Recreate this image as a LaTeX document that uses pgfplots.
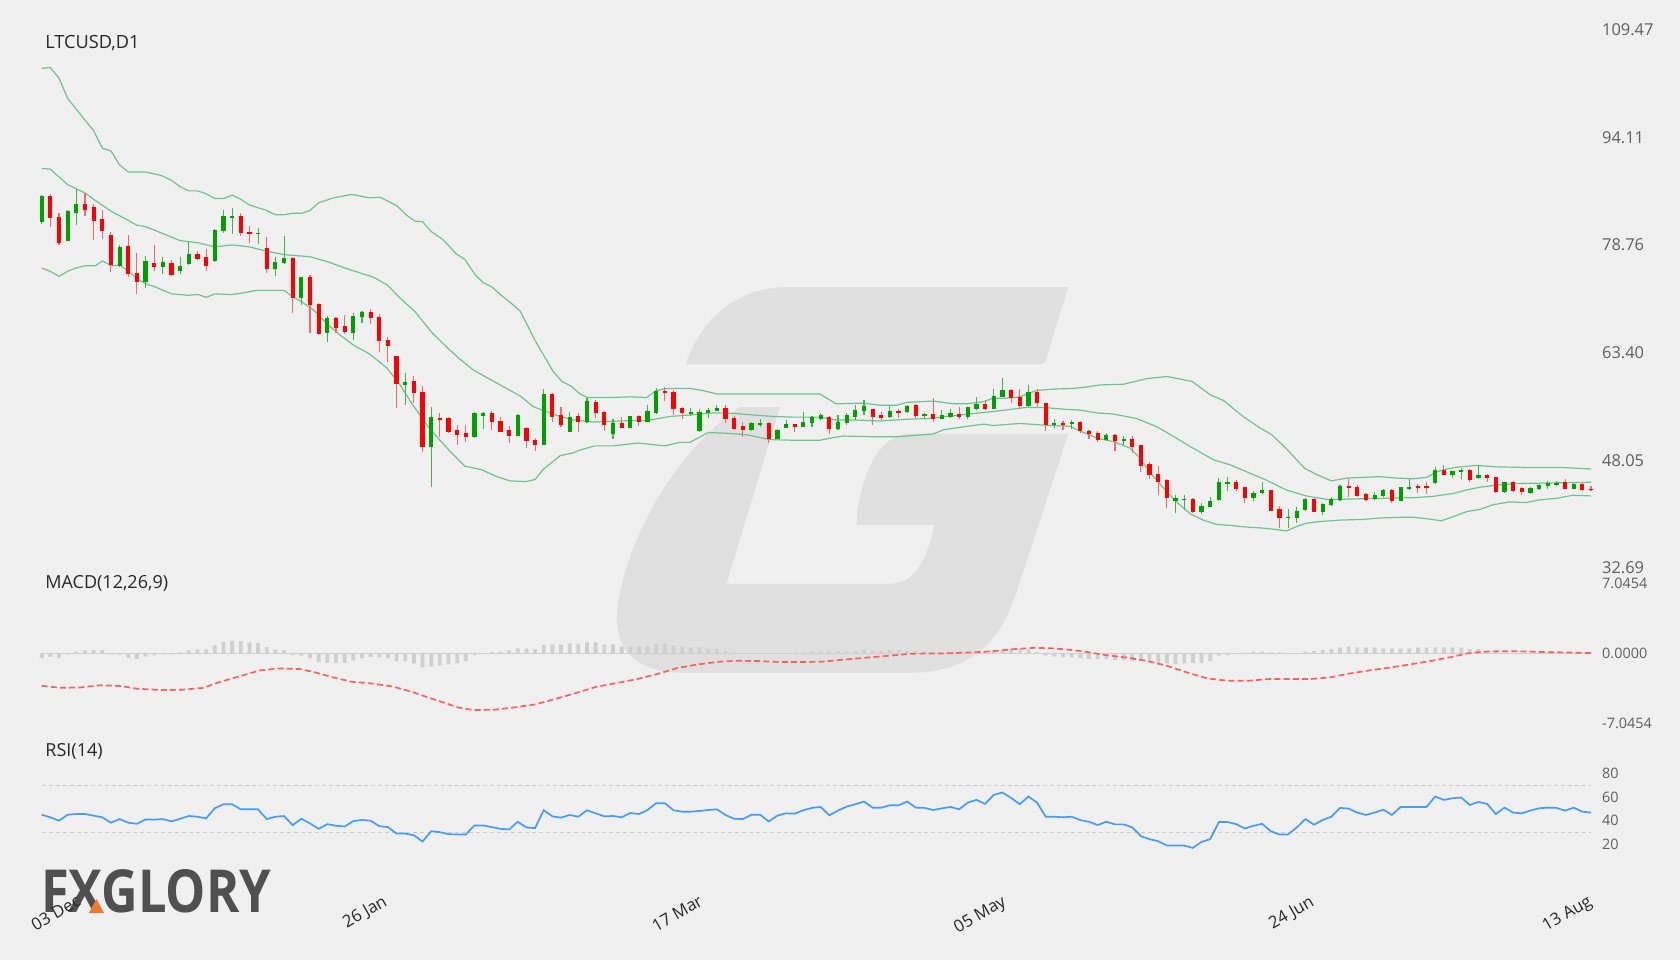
\documentclass[border=0pt]{standalone}
\usepackage{pgfplots}
\pgfplotsset{compat=1.18}
\usepackage{pgfplotstable}
\usepackage{fontspec}
\setmainfont{Open Sans}
\usepackage{graphicx}

\definecolor{bg}{RGB}{240,240,240}
\definecolor{cgreen}{RGB}{0,160,0}
\definecolor{cred}{RGB}{255,0,0}
\definecolor{band}{RGB}{110,195,145}
\definecolor{sig}{RGB}{255,95,95}
\definecolor{rsic}{RGB}{70,155,255}
\definecolor{hist}{RGB}{208,208,208}
\definecolor{wm}{RGB}{224,224,224}
\definecolor{lbl}{RGB}{95,95,95}
\definecolor{ttl}{RGB}{40,40,40}
\definecolor{logoc}{RGB}{80,80,80}
\definecolor{logoo}{RGB}{240,120,40}

\pgfplotstableread{
i O H L C
1 82.11 85.90 81.73 85.77
2 85.77 86.06 81.35 82.63
3 82.77 83.39 78.78 79.06
4 79.40 83.73 79.30 83.63
5 83.30 86.72 81.58 84.63
6 84.63 86.25 82.97 83.82
7 84.20 84.63 79.54 82.25
8 82.44 83.73 79.59 80.78
9 80.16 80.68 74.97 75.92
10 75.83 78.78 75.68 78.49
11 78.59 80.21 74.26 74.64
12 74.78 77.68 71.73 73.45
13 73.45 77.21 72.69 76.49
14 76.16 78.73 75.07 75.64
15 75.64 77.11 74.59 76.30
16 76.26 76.64 74.40 74.49
17 75.11 77.11 74.59 75.83
18 76.02 79.40 75.92 77.45
19 77.45 77.92 76.68 76.83
20 77.06 78.16 75.07 75.78
21 76.45 81.06 76.40 80.97
22 80.78 83.77 80.54 82.92
23 82.68 84.06 80.30 82.92
24 82.92 83.30 80.11 80.49
25 80.63 81.44 79.06 80.35
26 80.35 81.20 78.97 80.54
27 78.30 79.87 74.73 75.30
28 75.35 77.11 74.40 76.35
29 76.16 80.06 76.06 76.87
30 76.87 77.06 69.12 71.26
31 71.26 74.26 70.16 74.21
32 74.21 74.45 66.26 70.16
33 70.36 70.55 65.93 66.12
34 66.17 68.64 64.98 68.40
35 68.40 68.55 66.26 66.98
36 67.17 68.79 66.03 66.40
37 66.26 69.02 65.22 68.64
38 68.45 69.31 67.64 69.16
39 69.16 69.59 67.55 68.35
40 68.50 68.93 63.50 65.02
41 65.17 65.60 62.12 64.36
42 62.93 62.93 55.56 58.89
43 58.84 60.55 55.98 59.27
44 59.31 60.03 56.17 57.65
45 57.79 58.65 49.28 49.99
46 49.99 55.65 44.28 54.27
47 54.08 54.75 51.42 53.89
48 54.08 54.17 51.98 52.08
49 52.37 53.03 50.18 51.65
50 51.89 53.03 50.65 51.32
51 51.32 54.94 51.27 54.75
52 54.41 54.89 52.46 54.75
53 54.75 55.08 52.37 53.51
54 53.70 54.17 52.08 52.13
55 52.32 52.94 50.52 51.56
56 51.56 54.65 51.51 54.51
57 52.65 52.84 49.85 50.75
58 50.94 51.23 49.37 50.27
59 50.27 58.27 50.18 57.51
60 57.51 57.70 53.56 54.27
61 54.46 55.65 52.84 53.03
62 52.13 54.94 52.08 54.27
63 54.41 54.75 52.13 53.56
64 53.56 56.98 53.41 56.46
65 56.41 56.65 54.13 54.75
66 54.94 55.03 52.22 53.03
67 51.80 53.98 51.13 53.41
68 53.32 54.27 52.60 52.70
69 52.65 54.41 52.60 54.36
70 54.36 54.51 52.94 53.51
71 53.51 55.98 53.46 55.03
72 54.75 58.36 54.65 57.89
73 57.89 58.50 56.51 57.60
74 57.79 58.03 54.55 55.36
75 55.51 55.70 53.89 54.75
76 54.75 55.51 54.41 54.94
77 52.27 55.41 52.13 54.89
78 54.79 55.55 54.13 55.27
79 55.13 55.93 55.03 55.51
80 55.51 55.93 53.41 53.89
81 54.03 54.36 52.37 52.56
82 52.89 53.56 51.42 52.32
83 52.37 53.51 52.27 53.32
84 53.13 53.89 52.75 53.37
85 53.32 53.56 50.56 51.13
86 51.13 52.51 51.08 52.37
87 52.70 53.79 52.60 53.27
88 53.22 53.27 52.13 52.84
89 52.84 54.94 52.75 53.56
90 53.41 54.32 52.75 54.17
91 53.98 54.75 53.79 54.55
92 54.27 54.32 51.75 52.46
93 52.46 54.46 52.37 53.56
94 53.41 54.75 53.08 54.46
95 54.27 55.89 53.79 55.22
96 55.08 56.65 54.51 55.79
97 55.36 55.41 53.08 54.27
98 54.51 54.98 53.79 54.13
99 54.17 55.79 54.13 55.03
100 55.08 55.41 54.03 54.84
101 54.89 55.93 54.84 55.79
102 55.89 56.03 54.08 54.36
103 54.41 54.84 53.89 54.70
104 54.70 56.89 53.46 53.98
105 53.94 55.17 53.89 54.46
106 54.22 55.32 54.03 54.79
107 54.65 55.65 53.98 54.17
108 54.17 55.70 53.94 55.60
109 55.41 57.13 55.22 56.08
110 56.08 56.65 55.27 55.41
111 55.41 58.17 55.32 57.17
112 57.13 59.84 57.03 58.08
113 58.08 58.17 56.27 56.93
114 57.13 58.17 55.41 55.79
115 55.79 58.74 55.60 57.84
116 57.84 58.17 55.60 56.27
117 56.17 56.22 52.27 53.08
118 53.08 53.89 52.60 53.37
119 53.37 53.70 52.37 53.08
120 53.18 53.79 52.46 53.46
121 53.46 53.60 51.89 52.27
122 52.27 52.37 51.13 51.80
123 51.94 52.27 50.65 50.94
124 50.94 51.98 50.85 51.65
125 51.65 51.75 49.37 50.85
126 50.85 51.51 50.27 51.13
127 51.04 51.51 49.04 49.99
128 50.18 50.23 46.37 47.23
129 47.51 47.75 45.37 45.95
130 46.14 47.23 43.09 44.99
131 45.23 45.32 41.18 42.61
132 42.24 43.05 40.48 42.67
133 42.38 43.05 40.95 42.57
134 42.57 42.67 40.57 40.67
135 40.71 42.00 40.33 41.57
136 41.43 42.76 41.33 42.19
137 42.33 45.47 42.24 44.90
138 44.76 45.62 43.66 44.95
139 44.90 45.23 43.66 44.00
140 44.19 44.28 42.00 42.71
141 42.62 43.66 42.28 43.33
142 43.33 45.00 43.28 43.76
143 43.76 43.85 40.81 40.86
144 41.10 41.52 38.43 39.76
145 39.81 41.10 38.33 40.00
146 39.76 41.33 39.14 40.86
147 40.95 42.67 40.86 42.52
148 42.52 42.62 40.67 40.71
149 40.71 41.90 40.24 41.81
150 41.67 42.86 41.52 42.57
151 42.38 44.52 42.28 44.43
152 44.43 45.38 42.86 44.05
153 44.19 44.52 42.76 42.95
154 43.28 43.38 42.28 42.38
155 42.47 43.52 42.38 43.14
156 43.00 44.00 42.76 43.76
157 43.76 43.90 42.00 42.28
158 42.28 44.28 42.24 44.19
159 44.00 45.33 43.76 44.28
160 44.33 44.66 43.38 44.14
161 44.33 45.00 43.24 44.14
162 44.76 47.04 44.66 46.66
163 46.66 47.38 45.90 46.00
164 46.00 46.57 45.47 46.47
165 46.33 46.90 45.38 46.66
166 46.66 46.76 44.95 45.23
167 45.47 47.38 45.38 45.95
168 45.95 46.09 45.00 45.47
169 45.66 45.71 43.43 43.47
170 43.47 44.95 43.43 44.90
171 44.95 45.09 43.57 43.66
172 44.09 44.19 43.09 43.57
173 43.43 44.19 43.24 44.09
174 43.95 44.66 43.85 44.57
175 44.43 45.04 43.90 44.76
176 44.52 45.14 44.33 44.76
177 44.90 45.33 43.90 44.00
178 44.00 44.76 43.95 44.66
179 44.66 44.76 43.71 43.81
180 44.00 44.38 43.71 43.81
}\ohlc

\pgfplotstableread[row sep=\\]{
k v\\
1 -0.44\\ 2 -0.34\\ 3 -0.44\\ 4 -0.10\\ 5 0.17\\ 6 0.30\\ 7 0.34\\ 8 0.34\\ 9 -0.10\\ 10 -0.13\\
11 -0.44\\ 12 -0.54\\ 13 -0.30\\ 14 -0.20\\ 15 -0.10\\ 16 -0.07\\ 17 0.10\\ 18 0.30\\ 19 0.40\\ 20 0.40\\
21 0.80\\ 22 1.14\\ 23 1.27\\ 24 1.24\\ 25 1.10\\ 26 1.04\\ 27 0.64\\ 28 0.37\\ 29 0.30\\ 30 -0.17\\
31 -0.23\\ 32 -0.47\\ 33 -0.90\\ 34 -0.94\\ 35 -0.94\\ 36 -0.94\\ 37 -0.70\\ 38 -0.50\\ 39 -0.34\\ 40 -0.40\\
41 -0.50\\ 42 -0.77\\ 43 -0.77\\ 44 -1.00\\ 45 -1.44\\ 46 -1.31\\ 47 -1.24\\ 48 -1.10\\ 49 -0.97\\ 50 -0.77\\
51 -0.17\\ 52 -0.03\\ 53 0.13\\ 54 0.17\\ 55 0.30\\ 56 0.50\\ 57 0.47\\ 58 0.44\\ 59 0.84\\ 60 0.90\\
61 0.90\\ 62 1.00\\ 63 0.97\\ 64 1.10\\ 65 1.10\\ 66 0.90\\ 67 0.90\\ 68 0.70\\ 69 0.70\\ 70 0.70\\
71 0.74\\ 72 0.97\\ 73 0.97\\ 74 0.84\\ 75 0.70\\ 76 0.57\\ 77 0.57\\ 78 0.47\\ 79 0.44\\ 80 0.27\\
81 0.10\\ 82 0.03\\ 83 0.00\\ 84 0.00\\ 85 -0.03\\ 86 0.00\\ 87 0.03\\ 88 0.07\\ 89 0.10\\ 90 0.17\\
91 0.20\\ 92 0.20\\ 93 0.20\\ 94 0.23\\ 95 0.23\\ 96 0.40\\ 97 0.27\\ 98 0.27\\ 99 0.34\\ 100 0.34\\
101 0.27\\ 102 0.23\\ 103 0.17\\ 104 0.07\\ 105 0.07\\ 106 0.10\\ 107 0.10\\ 108 0.10\\ 109 0.23\\ 110 0.23\\
111 0.34\\ 112 0.34\\ 113 0.40\\ 114 0.40\\ 115 0.40\\ 116 0.17\\ 117 -0.23\\ 118 -0.30\\ 119 -0.40\\ 120 -0.40\\
121 -0.47\\ 122 -0.54\\ 123 -0.57\\ 124 -0.57\\ 125 -0.64\\ 126 -0.70\\ 127 -0.77\\ 128 -0.77\\ 129 -0.84\\ 130 -0.94\\
131 -1.00\\ 132 -1.10\\ 133 -1.00\\ 134 -0.94\\ 135 -0.94\\ 136 -0.77\\ 137 -0.23\\ 138 -0.17\\ 139 0.00\\ 140 0.07\\
141 0.17\\ 142 0.17\\ 143 0.10\\ 144 0.10\\ 145 0.03\\ 146 0.03\\ 147 0.17\\ 148 0.23\\ 149 0.34\\ 150 0.44\\
151 0.57\\ 152 0.70\\ 153 0.60\\ 154 0.57\\ 155 0.57\\ 156 0.50\\ 157 0.50\\ 158 0.50\\ 159 0.50\\ 160 0.57\\
161 0.57\\ 162 0.60\\ 163 0.60\\ 164 0.57\\ 165 0.57\\ 166 0.44\\ 167 0.44\\ 168 0.23\\ 169 0.17\\ 170 0.10\\
171 0.00\\ 172 -0.07\\ 173 -0.07\\ 174 -0.07\\ 175 -0.03\\ 176 -0.03\\ 177 0.00\\ 178 0.00\\ 179 0.03\\ 180 0.03\\
}\hist

\pgfplotstableread[row sep=\\]{
k v\\
1 45.1\\ 2 42.9\\ 3 40.0\\ 4 45.1\\ 5 45.7\\ 6 45.7\\ 7 44.3\\ 8 42.9\\ 9 38.3\\ 10 41.4\\
11 38.3\\ 12 37.4\\ 13 41.1\\ 14 40.9\\ 15 41.4\\ 16 39.4\\ 17 41.7\\ 18 44.0\\ 19 43.4\\ 20 42.0\\
21 50.6\\ 22 54.0\\ 23 54.0\\ 24 49.7\\ 25 49.7\\ 26 49.7\\ 27 41.4\\ 28 43.4\\ 29 44.0\\ 30 36.3\\
31 41.7\\ 32 37.7\\ 33 33.1\\ 34 37.1\\ 35 35.7\\ 36 35.1\\ 37 39.7\\ 38 40.6\\ 39 40.0\\ 40 35.4\\
41 34.6\\ 42 29.1\\ 43 29.1\\ 44 27.7\\ 45 22.3\\ 46 31.1\\ 47 30.3\\ 48 28.6\\ 49 28.3\\ 50 28.3\\
51 36.0\\ 52 36.0\\ 53 34.6\\ 54 33.1\\ 55 32.6\\ 56 39.1\\ 57 34.3\\ 58 33.7\\ 59 48.9\\ 60 43.7\\
61 42.6\\ 62 44.9\\ 63 43.4\\ 64 48.9\\ 65 46.3\\ 66 43.7\\ 67 44.0\\ 68 42.9\\ 69 46.6\\ 70 45.7\\
71 49.1\\ 72 54.9\\ 73 54.9\\ 74 48.9\\ 75 47.7\\ 76 47.7\\ 77 48.3\\ 78 49.1\\ 79 49.7\\ 80 44.9\\
81 41.7\\ 82 41.4\\ 83 45.1\\ 84 45.1\\ 85 39.4\\ 86 44.3\\ 87 46.3\\ 88 46.0\\ 89 48.9\\ 90 50.9\\
91 51.7\\ 92 44.6\\ 93 48.6\\ 94 52.0\\ 95 54.0\\ 96 56.3\\ 97 51.1\\ 98 51.1\\ 99 53.1\\ 100 53.1\\
101 56.3\\ 102 51.1\\ 103 50.9\\ 104 49.1\\ 105 50.5\\ 106 51.7\\ 107 49.7\\ 108 55.4\\ 109 57.7\\ 110 54.3\\
111 62.0\\ 112 64.0\\ 113 59.4\\ 114 54.0\\ 115 60.6\\ 116 55.4\\ 117 43.4\\ 118 43.4\\ 119 42.9\\ 120 43.4\\
121 40.6\\ 122 39.1\\ 123 36.3\\ 124 39.1\\ 125 36.9\\ 126 36.9\\ 127 34.3\\ 128 26.9\\ 129 24.3\\ 130 22.6\\
131 18.9\\ 132 18.9\\ 133 18.9\\ 134 16.9\\ 135 22.0\\ 136 24.3\\ 137 38.9\\ 138 38.9\\ 139 37.1\\ 140 33.4\\
141 35.7\\ 142 37.4\\ 143 31.1\\ 144 28.3\\ 145 28.3\\ 146 34.3\\ 147 41.4\\ 148 36.6\\ 149 40.6\\ 150 43.4\\
151 50.9\\ 152 50.3\\ 153 46.9\\ 154 44.9\\ 155 46.9\\ 156 49.4\\ 157 44.9\\ 158 51.7\\ 159 51.7\\ 160 51.7\\
161 51.7\\ 162 60.6\\ 163 57.7\\ 164 59.1\\ 165 59.7\\ 166 53.4\\ 167 56.0\\ 168 54.3\\ 169 45.7\\ 170 51.1\\
171 46.9\\ 172 46.3\\ 173 48.6\\ 174 50.6\\ 175 51.1\\ 176 50.9\\ 177 48.6\\ 178 51.1\\ 179 47.7\\ 180 46.9\\
}\rsi

\pgfplotsset{
  panel/.style={
    scale only axis, width=774.65pt, xmin=1, xmax=180, clip=false,
    axis line style={draw=none}, major tick length=0pt, minor tick num=0,
    xtick=\empty, yticklabel pos=right,
    yticklabel style={anchor=west, inner sep=0pt, xshift=5.4pt, text=lbl},
    /pgf/number format/assume math mode=true,
  },
  candle/.style n args={2}{
    draw=none, mark=none, forget plot,
    error bars/.cd, y dir=both, y explicit, error mark=none,
    error bar style={draw=#1, line width=#2, line cap=butt},
  },
}

\begin{document}
\begin{tikzpicture}
\fill[bg] (0,0) rectangle (840pt,480pt);
\useasboundingbox (0,0) rectangle (840pt,480pt);

% watermark (drawn in reference-image units)
\begin{scope}[x=0.5357pt, y=-0.5357pt, shift={(0pt,480pt)}]
\fill[wm] (640,340) .. controls (655,295) and (690,268) .. (735,268) -- (997,268) -- (976,336) .. controls (975,339) .. (970,340) -- cycle;
\fill[wm] (690,380) -- (728,380) -- (678,545) -- (830,545) .. controls (855,545) and (866,520) .. (872,490) -- (800,490) -- (800,478) .. controls (806,440) and (820,405) .. (850,405) -- (997,405) -- (948,555) .. controls (928,612) and (895,628) .. (845,628) -- (640,628) .. controls (592,628) and (568,606) .. (578,556) .. controls (592,488) and (636,418) .. (690,380) -- cycle;
\end{scope}

% logo
\node[anchor=south west, inner sep=0pt, text=logoc] at (20.4pt,23.5pt) {\resizebox{115pt}{21.5pt}{\bfseries FXGLORY}};
\begin{scope}[x=0.5357pt, y=-0.5357pt, shift={(0pt,480pt)}]
\fill[logoo] (83,852) -- (97,852) -- (90,839) -- cycle;
\end{scope}

% ---------------- price panel
\begin{axis}[panel, at={(20.85pt,196.1pt)}, anchor=south west, height=268.9pt,
  ymin=32.69, ymax=109.47,
  ytick={32.69,48.05,63.40,78.76,94.11,109.47},
  yticklabels={32.69,48.05,63.40,78.76,94.11,109.47},
  yticklabel style={font=\fontsize{8.2}{9}\selectfont}]
\addplot[band, line width=0.6pt] coordinates {(1,104.0)(2,104.1)(3,102.6)(4,99.7)(6,96.6)(7,95.1)(8,92.6)(9,92.2)(10,90.2)(11,89.2)(13,89.2)(14.8,88.7)(16,88.0)(17,87.1)(18,86.5)(19,86.5)(20,86.1)(21,85.4)(22,85.4)(23,85.9)(24,85.3)(25,84.5)(27,83.7)(28,83.1)(29,83.1)(30,83.3)(31,83.3)(32,83.7)(33,84.8)(34.7,85.5)(36.8,86.0)(38.9,85.5)(40.1,85.6)(42,84.4)(43.2,83.0)(44.1,82.2)(45,82.1)(46,80.7)(47.4,79.5)(48.9,77.5)(49.9,76.7)(51.1,74.5)(52,73.4)(53,72.8)(54,71.7)(55.3,70.4)(56.3,69.3)(57.2,67.1)(58.2,64.7)(59.3,62.4)(60.1,60.7)(61.1,59.3)(62.2,58.6)(63.2,57.5)(64,57.0)(66.7,57.0)(69,57.1)(70.9,57.0)(72,58.0)(73.2,58.3)(75.9,58.3)(77.4,58.0)(79,57.5)(82.4,57.5)(85.9,57.5)(90.9,57.5)(92.8,56.1)(95.9,56.2)(97.8,55.9)(99.8,55.9)(100.9,56.3)(104,56.5)(106.3,56.1)(107.8,56.1)(109.8,56.4)(110.9,56.9)(112.5,56.9)(114,57.1)(115.9,58.0)(117.9,58.2)(120.2,58.3)(121.7,58.5)(123.3,58.8)(126,58.9)(128.7,59.7)(131,60.0)(133.9,59.3)(136,57.4)(137.5,56.6)(139.8,54.3)(141.7,52.7)(143.1,51.7)(144.8,49.7)(146.9,46.9)(148.3,46.0)(150,45.1)(151.8,45.5)(153.7,45.6)(155.6,45.7)(157.5,45.5)(159.5,45.4)(161,45.6)(162.2,46.4)(163.3,46.8)(164.8,47.1)(166.8,47.3)(169.1,47.1)(173,47.0)(176.8,47.0)(180,46.8)};
\addplot[band, line width=0.6pt] coordinates {(1,89.7)(2,89.6)(4,87.4)(6,86.2)(7,85.3)(9,83.6)(11,82.3)(12,81.6)(13,81.4)(15,80.4)(17,79.4)(19,79.1)(20,78.8)(21,78.5)(23,78.8)(25,78.5)(27,77.9)(29,77.4)(31,77.2)(32,77.1)(34,76.4)(36,75.5)(38,74.7)(39.3,74.2)(40.9,73.1)(42.4,71.2)(44.1,69.3)(46,66.4)(47.8,64.2)(49.1,62.7)(50.9,60.9)(52.8,59.6)(54.7,58.3)(56.3,57.2)(57.8,55.7)(59.3,55.0)(60.9,54.3)(62.4,53.8)(64.7,53.5)(66.8,53.6)(69,53.7)(70.9,53.7)(73.6,54.3)(75.9,54.5)(78.2,54.8)(80.9,54.75)(83.2,54.5)(85.5,54.3)(87.8,54.2)(90.9,54.2)(92.8,53.8)(94.8,53.8)(97.8,53.65)(100.9,53.9)(103.6,54.0)(106.3,54.4)(109,54.75)(110.9,55.0)(112.9,55.3)(114.8,55.6)(117.1,55.55)(119.4,55.3)(121,55.2)(122.9,54.8)(124.8,54.65)(127.5,54.0)(129.8,52.85)(131,52.0)(133.7,50.0)(136.4,48.1)(138.3,47.4)(140.2,46.4)(142.5,45.2)(144.8,43.8)(147.1,42.95)(149.8,42.4)(151.8,42.5)(155.6,42.6)(159.5,42.7)(161.8,42.9)(164.1,43.3)(165.6,43.8)(167.2,44.2)(169.1,44.5)(171,44.7)(174.9,44.8)(180,44.9)};
\addplot[band, line width=0.6pt] coordinates {(1,75.5)(2,75.0)(3,74.3)(4.1,75.1)(5,75.5)(6,75.8)(7.2,75.8)(8,76.5)(9.1,75.8)(10,75.9)(11,75.1)(12,74.0)(12.9,73.3)(14.1,72.8)(16,71.8)(17.9,71.6)(19.1,71.7)(20,71.3)(21,71.8)(22.9,71.7)(24.1,71.9)(25.8,72.3)(27.2,72.3)(29,72.3)(30.1,71.3)(31,70.7)(32.4,69.5)(33.9,67.6)(35.5,65.9)(37,64.5)(38.9,63.2)(40.9,61.2)(42.4,58.8)(43.9,55.9)(45.5,53.1)(47,50.9)(48.2,49.3)(49.9,47.2)(51.8,46.7)(53.6,45.7)(55.1,45.1)(57,45.0)(58,45.3)(58.9,46.7)(60.9,48.7)(62.4,49.1)(63.2,49.5)(64.9,50.1)(67,50.1)(69.9,50.5)(73,50.1)(74.7,50.6)(75.9,50.6)(78,52.0)(80.1,51.9)(82.4,51.7)(85.1,51.0)(87.8,50.9)(90.9,50.9)(92.1,51.2)(93.6,51.5)(97.1,51.4)(99.8,51.4)(104,51.8)(105.2,52.4)(107.1,52.75)(109.8,53.2)(110.9,53.0)(114,53.3)(116.3,53.1)(117.9,53.0)(119.8,52.9)(121,52.2)(122.1,51.65)(122.9,51.2)(124.8,50.7)(126.7,49.8)(127.7,48.6)(129,46.4)(130.6,44.1)(132.1,42.1)(133.7,40.4)(135.2,39.5)(136.7,38.9)(138.7,38.7)(140.2,38.5)(141.7,38.4)(143.3,38.2)(144.8,37.95)(146,38.6)(147.1,39.05)(148.7,39.3)(151,39.5)(153.7,39.6)(155.6,39.8)(158,39.9)(159.5,39.9)(161,39.7)(162.7,39.4)(164.1,40.0)(165.6,40.7)(167.2,41.05)(168.7,41.7)(170.6,42.1)(172.5,42.0)(174.1,42.4)(176,42.6)(177.9,43.05)(180,42.95)};
% wicks
\addplot[candle={cgreen!75}{0.55pt}] table[x=i, y expr={(\thisrow{H}+\thisrow{L})/2}, y error expr={(\thisrow{C}>=\thisrow{O})*(\thisrow{H}-\thisrow{L})/2}] {\ohlc};
\addplot[candle={cred!60}{0.55pt}] table[x=i, y expr={(\thisrow{H}+\thisrow{L})/2}, y error expr={(\thisrow{C}<\thisrow{O})*(\thisrow{H}-\thisrow{L})/2}] {\ohlc};
% bodies
\addplot[candle={cgreen}{2.1pt}] table[x=i, y expr={(\thisrow{O}+\thisrow{C})/2}, y error expr={(\thisrow{C}>=\thisrow{O})*max(\thisrow{C}-\thisrow{O},0.16)/2}] {\ohlc};
\addplot[candle={cred}{2.1pt}] table[x=i, y expr={(\thisrow{O}+\thisrow{C})/2}, y error expr={(\thisrow{C}<\thisrow{O})*max(\thisrow{O}-\thisrow{C},0.16)/2}] {\ohlc};
\end{axis}
\node[anchor=base west, inner sep=0pt, text=ttl, font=\fontsize{9.1}{10}\selectfont] at (22.5pt,455.6pt) {LTCUSD,D1};

% ---------------- MACD panel
\begin{axis}[panel, at={(20.85pt,118.25pt)}, anchor=south west, height=70.1pt,
  ymin=-7.0454, ymax=7.0454,
  ytick={-7.0454,0,7.0454}, yticklabels={-7.0454,0.0000,7.0454},
  yticklabel style={font=\fontsize{7.2}{8}\selectfont}]
\draw[hist, line width=0.6pt] (axis cs:1,0) -- (axis cs:180,0);
\addplot[ybar, bar width=1.9pt, bar shift=0pt, fill=hist, draw=none] table[x=k, y=v] {\hist};
\addplot[sig, line width=0.85pt, dash pattern=on 3pt off 1.6pt] coordinates {(1,-3.26)(3.2,-3.46)(5.5,-3.42)(7.9,-3.19)(10.2,-3.29)(12,-3.55)(15,-3.69)(17.3,-3.65)(19.7,-3.46)(21.4,-2.92)(23.8,-2.32)(26.2,-1.71)(28.5,-1.51)(30.9,-1.58)(32.6,-1.91)(34.4,-2.35)(36.8,-2.85)(39.1,-3.02)(41.5,-3.32)(43.8,-3.86)(45.6,-4.42)(47.4,-4.93)(49.1,-5.43)(50.9,-5.70)(53.3,-5.66)(55.6,-5.43)(58,-5.13)(60.3,-4.59)(62.7,-3.99)(65.1,-3.35)(67.4,-2.99)(69.8,-2.58)(72.1,-2.08)(74.5,-1.45)(76.8,-1.11)(79.2,-0.84)(81.5,-0.74)(83.9,-0.77)(86.3,-0.87)(88.6,-0.87)(91,-0.84)(94.4,-0.57)(98,-0.30)(101.5,-0.03)(105.1,0.0)(108.6,0.10)(111,0.23)(113.3,0.43)(115.7,0.56)(118,0.50)(119.8,0.36)(121.6,0.17)(123.9,-0.17)(126.3,-0.41)(128.6,-0.74)(131,-1.24)(133.3,-1.91)(135.7,-2.52)(138.1,-2.75)(140.4,-2.75)(142.8,-2.58)(145.1,-2.58)(147.5,-2.58)(149.8,-2.42)(152.2,-2.01)(154.6,-1.68)(156.9,-1.41)(159.3,-1.08)(161.6,-0.74)(164,-0.34)(165.7,0.0)(167.5,0.17)(169.9,0.23)(172.2,0.20)(174.6,0.13)(176.9,0.10)(180,0.03)};
\end{axis}
\node[anchor=base west, inner sep=0pt, text=ttl, font=\fontsize{9.0}{10}\selectfont] at (22.5pt,185.6pt) {MACD(12,26,9)};

% ---------------- RSI panel
\begin{axis}[panel, at={(20.85pt,46.1pt)}, anchor=south west, height=58.85pt,
  ymin=0, ymax=100, ytick={20,40,60,80},
  yticklabel style={font=\fontsize{7.2}{8}\selectfont},
  xtick={3.2,38.6,75.1,110.1,145.7,177.8},
  xticklabels={03 Dec,26 Jan,17 Mar,05 May,24 Jun,13 Aug},
  xticklabel style={rotate=30, anchor=north east, inner sep=0pt, yshift=-15pt, text=ttl, font=\fontsize{8.4}{10}\selectfont}]
\draw[black!20, line width=0.5pt, dash pattern=on 2pt off 1.5pt] (axis cs:1,70) -- (axis cs:180,70);
\draw[black!20, line width=0.5pt, dash pattern=on 2pt off 1.5pt] (axis cs:1,30) -- (axis cs:180,30);
\addplot[rsic, line width=0.85pt] table[x=k, y=v] {\rsi};
\end{axis}
\node[anchor=base west, inner sep=0pt, text=ttl, font=\fontsize{9.0}{10}\selectfont] at (22.5pt,101.9pt) {RSI(14)};
\end{tikzpicture}
\end{document}
